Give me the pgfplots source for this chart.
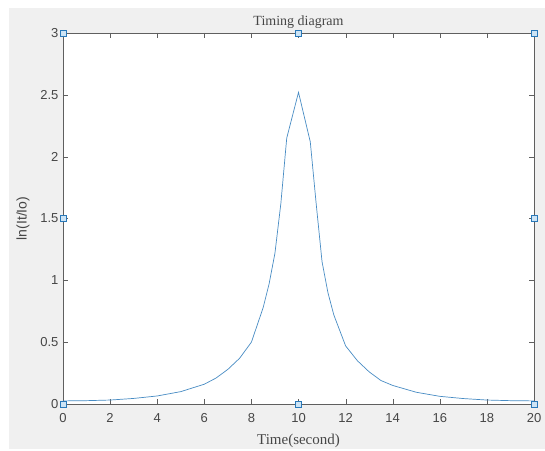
\documentclass[border=0pt]{standalone}
\usepackage{fontspec}
\setmainfont{Liberation Serif}
\setsansfont{Liberation Sans}
\usepackage{pgfplots}
\pgfplotsset{compat=1.18}
\definecolor{figbg}{RGB}{240,240,240}
\definecolor{axgray}{RGB}{95,95,95}
\definecolor{txtgray}{RGB}{70,70,70}
\definecolor{mblue}{RGB}{40,120,185}
\definecolor{mfill}{RGB}{205,228,245}

\begin{document}
\begin{tikzpicture}
% figure window background
\fill[white] (-63pt,-45pt) rectangle (482pt,404pt);
\fill[figbg] (-54pt,-45pt) rectangle (482pt,396pt);
\begin{axis}[
  scale only axis,
  width=471pt, height=371pt,
  xmin=0, xmax=20, ymin=0, ymax=3,
  xtick={0,2,...,20},
  ytick={0,0.5,1,1.5,2,2.5,3},
  yticklabels={0,0.5,1,1.5,2,2.5,3},
  tick align=inside,
  xtick pos=both, ytick pos=both,
  major tick length=5pt,
  axis line style={axgray},
  tick style={axgray},
  axis background/.style={fill=white},
  /pgf/number format/assume math mode=true,
  tick label style={font=\sffamily\fontsize{13}{13}\selectfont, text=txtgray},
  xticklabel style={yshift=-6pt},
  yticklabel style={xshift=-1pt},
  title={Timing diagram},
  title style={font=\rmfamily\fontsize{14}{14}\selectfont, text=txtgray, yshift=-5pt},
  xlabel={Time(second)},
  xlabel style={font=\rmfamily\fontsize{15}{15}\selectfont, text=txtgray, yshift=-4pt},
  ylabel={ln(It/Io)},
  ylabel style={font=\sffamily\fontsize{14}{14}\selectfont, text=txtgray, yshift=4pt},
  clip=false,
]
% measured curve
\addplot[mblue!85, line width=0.7pt, no marks] coordinates {
  (0,0.025) (1,0.027) (2,0.032) (3,0.045) (4,0.065) (5,0.10)
  (6,0.16) (6.5,0.21) (7,0.28) (7.5,0.37) (8,0.50) (8.5,0.78)
  (8.75,0.97) (9,1.22) (9.25,1.62) (9.5,2.15) (10,2.52) (10.5,2.12)
  (10.75,1.62) (11,1.15) (11.25,0.90) (11.5,0.72)
  (12,0.47) (12.5,0.35) (13,0.26) (13.5,0.19) (14,0.15) (15,0.095)
  (16,0.062) (17,0.044) (18,0.032) (19,0.027) (20,0.025)
};
% square markers
\addplot[only marks, mark=square*, mark size=3pt,
  mark options={draw=mblue, fill=mfill, line width=0.8pt}] coordinates {
  (0,0) (10,0) (20,0) (0,1.5) (20,1.5) (0,3) (10,3) (20,3)
};
\end{axis}
\end{tikzpicture}
\end{document}
